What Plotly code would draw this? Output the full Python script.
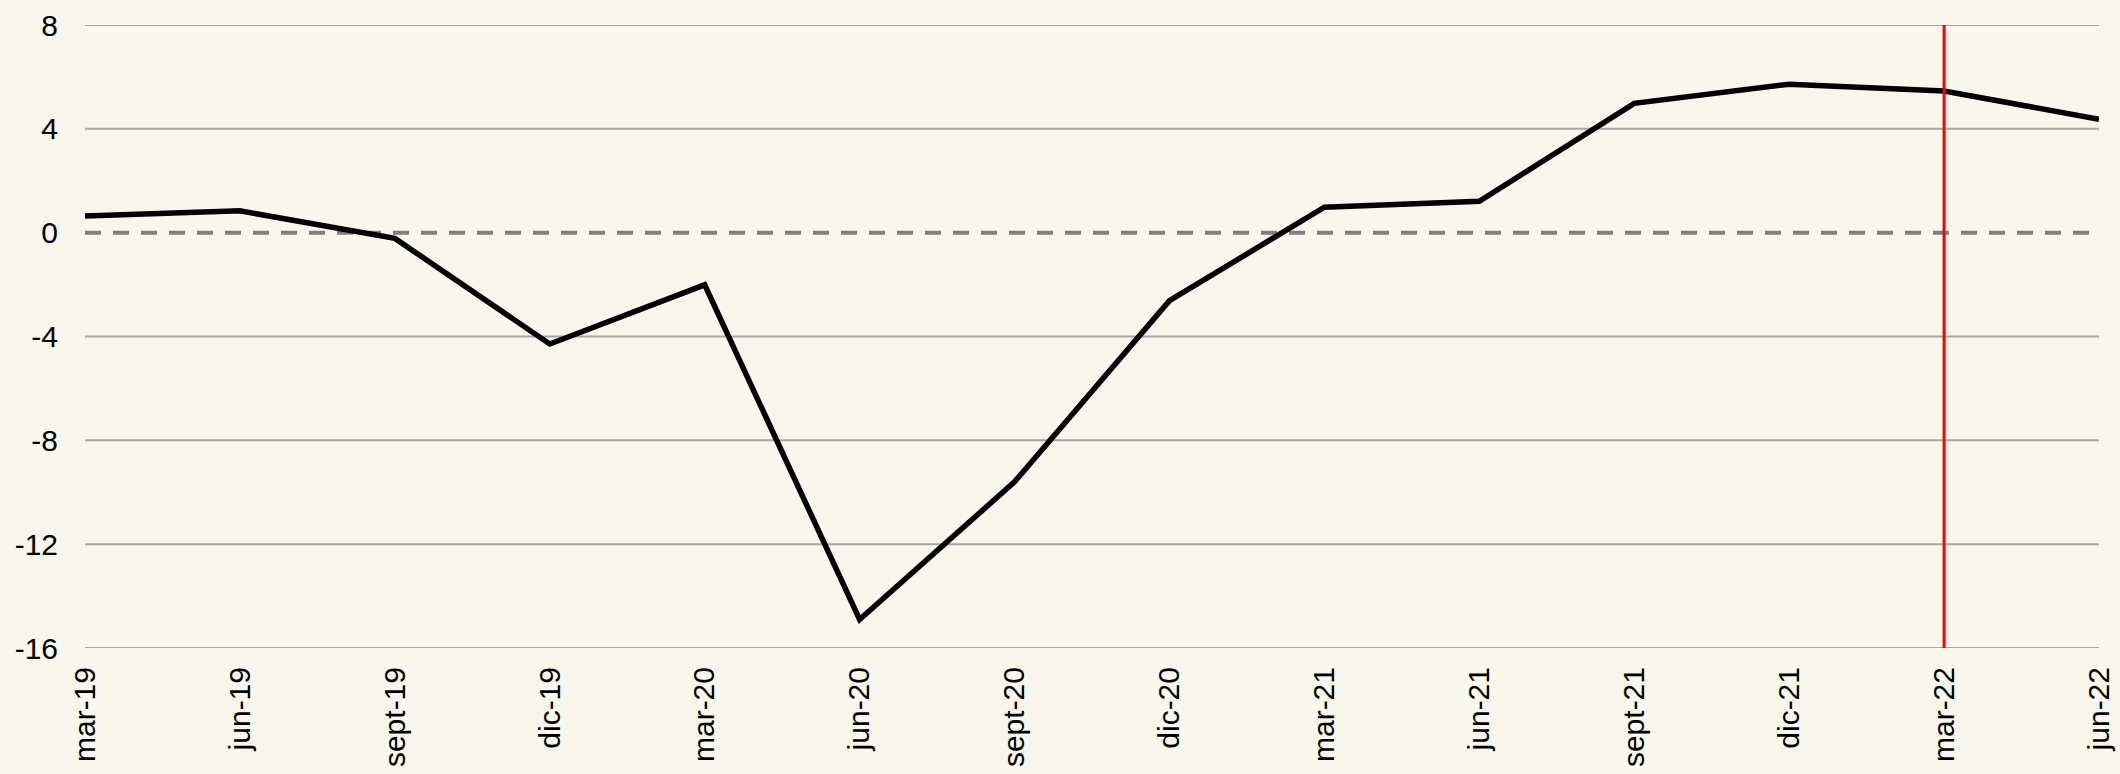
import plotly.graph_objects as go


# Quarterly series
quarters = [
    'mar-19', 'jun-19', 'sept-19', 'dic-19',
    'mar-20', 'jun-20', 'sept-20', 'dic-20',
    'mar-21', 'jun-21', 'sept-21', 'dic-21',
    'mar-22', 'jun-22',
]
values = [
    0.64, 0.84, -0.22, -4.29,
    -2.01, -14.9, -9.6, -2.62,
    0.98, 1.21, 4.98, 5.72,
    5.46, 4.37,
]
y_ticks = [8, 4, 0, -4, -8, -12, -16]
marker_quarter = 'mar-22'

BG = '#F9F7EB'
FONT = 'Liberation Sans, Arial, sans-serif'


#------------------------------------------------------------------------------------------------
fig = go.Figure(
    data = go.Scatter(
        x          = quarters,
        y          = values,
        mode       = 'lines',
        line       = dict(color='black', width=5.5),
        showlegend = False,
        hoverinfo  = 'x+y',
    )
)

# grid lines (all but zero, which is dashed)
for val in y_ticks:
    if val == 0:
        continue
    fig.add_shape(
        type  = 'line',
        xref  = 'paper', x0=0, x1=1,
        yref  = 'y', y0=val, y1=val,
        line  = dict(color='#A6A6A6', width=2),
        layer = 'below',
    )

fig.add_shape(
    type  = 'line',
    xref  = 'paper', x0=0, x1=1,
    yref  = 'y', y0=0, y1=0,
    line  = dict(color='#7F7F7F', width=4, dash='16px,12px'),
    layer = 'below',
)

# vertical marker
fig.add_shape(
    type  = 'line',
    xref  = 'x', x0=marker_quarter, x1=marker_quarter,
    yref  = 'y', y0=y_ticks[-1], y1=y_ticks[0],
    line  = dict(color='#FF0000', width=3),
    layer = 'above',
)

fig.update_layout(
    width         = 2120,
    height        = 774,
    paper_bgcolor = BG,
    plot_bgcolor  = BG,
    margin        = dict(l=85, r=21, t=25, b=126),
    font          = dict(family=FONT, size=30, color='black'),
    xaxis         = dict(
        type               = 'category',
        range              = [0, len(quarters) - 1],
        tickangle          = -90,
        showgrid           = False,
        zeroline           = False,
        showline           = False,
        ticks              = '',
        ticklabelstandoff  = 12,
        automargin         = False,
    ),
    yaxis         = dict(
        range              = [y_ticks[-1], y_ticks[0]],
        tickvals           = y_ticks,
        ticktext           = [str(v) for v in y_ticks],
        showgrid           = False,
        zeroline           = False,
        showline           = False,
        ticks              = '',
        ticklabelstandoff  = 26,
        automargin         = False,
    ),
)

fig.write_html(
    'out.html',
    config      = {'displayModeBar': False},
    post_script = "document.body.style.margin='0';document.body.style.overflow='hidden';"
                  "document.body.style.background='" + BG + "';",
)
